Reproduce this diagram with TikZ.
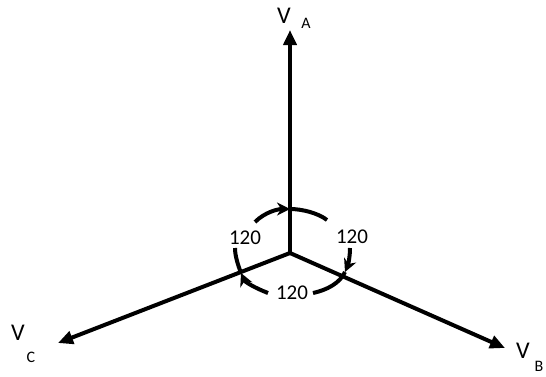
\documentclass[tikz,border=0pt]{standalone}
\usepackage{fontspec}
\setmainfont{Carlito}
\usetikzlibrary{arrows.meta}
\begin{document}
\begin{tikzpicture}[x=1pt,y=-1pt,
  phasor/.style={line width=4pt,-{Triangle[length=15pt,width=13pt]}},
  arcline/.style={line width=4pt},
  arcarrow/.style={line width=4pt,-{Stealth[length=13pt,width=13pt]}},
  lbl/.style={inner sep=0pt,font=\fontsize{24}{24}\selectfont},
  sublbl/.style={inner sep=0pt,font=\fontsize{16}{16}\selectfont},
  num/.style={inner sep=0pt,font=\fontsize{21}{21}\selectfont}]
\useasboundingbox (0,0) rectangle (546,376);
\coordinate (O) at (290,253);
\coordinate (A) at (290,30);
\coordinate (C) at (58,343);
\coordinate (B) at (505,348);
\draw[phasor] (O) -- (A);
\draw[phasor] (O) -- (C);
\draw[phasor] (O) -- (B);
% crossing points of the arcs
\coordinate (xa) at (290,209);
\coordinate (xc) at (241,273);
\coordinate (xb) at (345,272);
% top arc
\draw[arcarrow] (255,222) .. controls (265,212) and (278,209) .. (xa);
\draw[arcline] (xa) .. controls (302,209) and (318,213) .. (327,220);
% left arc
\draw[arcarrow] (268,293) .. controls (255,288) and (245,282) .. (xc);
\draw[arcline] (xc) .. controls (238,265) and (235,256) .. (235,248);
% right arc
\draw[arcarrow] (350,248) .. controls (350,257) and (348,265) .. (xb);
\draw[arcline] (xb) .. controls (340,283) and (327,290) .. (313,293);
% labels
\node[lbl] (la) at (284,16) {V};
\node[sublbl] (las) at (306,23) {A};
\node[lbl] (lc) at (18,333) {V};
\node[sublbl] (lcs) at (31,357) {C};
\node[lbl] (lb) at (523,351) {V};
\node[sublbl] (lbs) at (539,366) {B};
\node[num] (n1) at (245,238) {120};
\node[num] (n2) at (352,237) {120};
\node[num] (n3) at (292,293) {120};
\end{tikzpicture}
\end{document}
